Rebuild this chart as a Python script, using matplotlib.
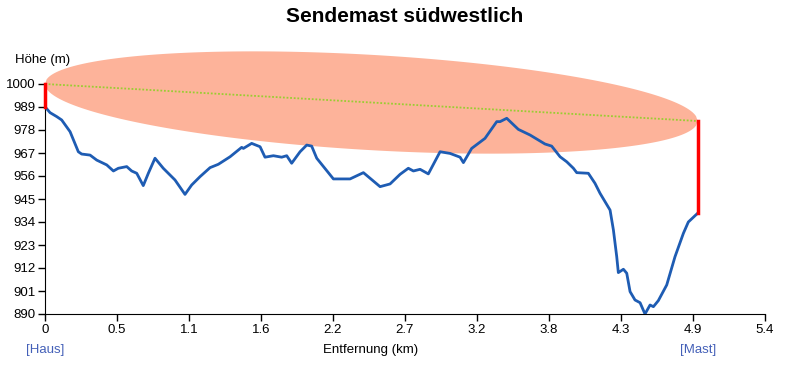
import numpy as np
import matplotlib
matplotlib.use("Agg")
import matplotlib.pyplot as plt

plt.rcParams['font.family'] = ['Liberation Sans', 'DejaVu Sans']

# terrain profile (km, m)
dist = [0.000, 0.038, 0.088, 0.125, 0.188, 0.250, 0.275, 0.338, 0.388, 0.463,
        0.513, 0.550, 0.613, 0.650, 0.688, 0.737, 0.775, 0.825, 0.887, 0.975,
        1.050, 1.100, 1.163, 1.238, 1.300, 1.388, 1.475, 1.488, 1.550, 1.613,
        1.650, 1.713, 1.775, 1.813, 1.850, 1.913, 1.963, 2.000, 2.038, 2.163,
        2.288, 2.388, 2.513, 2.588, 2.663, 2.725, 2.763, 2.813, 2.875, 2.963,
        3.038, 3.113, 3.138, 3.200, 3.300, 3.388, 3.413, 3.463, 3.550, 3.638,
        3.750, 3.800, 3.863, 3.913, 3.963, 3.988, 4.075, 4.125, 4.163, 4.238,
        4.263, 4.288, 4.300, 4.338, 4.363, 4.388, 4.425, 4.463, 4.500, 4.538,
        4.563, 4.600, 4.663, 4.725, 4.788, 4.825, 4.895]
elev = [989.1, 986.3, 984.4, 982.8, 977.2, 967.6, 966.5, 966.0, 963.6, 961.3,
        958.4, 959.7, 960.5, 958.4, 957.3, 951.4, 957.3, 964.5, 959.7, 954.1,
        947.2, 951.7, 955.7, 960.0, 961.6, 965.2, 969.7, 969.2, 971.6, 970.0,
        965.0, 965.7, 965.0, 965.7, 962.1, 967.6, 970.8, 970.3, 964.5, 954.6,
        954.6, 957.6, 950.9, 952.2, 956.8, 959.7, 958.4, 959.2, 957.0, 967.6,
        966.8, 965.0, 962.4, 969.2, 974.0, 982.0, 982.0, 983.6, 978.3, 975.6,
        971.3, 970.3, 965.2, 962.8, 959.7, 957.6, 957.3, 952.5, 947.7, 939.7,
        930.2, 917.4, 909.8, 911.4, 909.5, 900.7, 896.7, 895.4, 890.0, 894.3,
        893.5, 896.4, 903.9, 917.4, 928.6, 934.0, 938.2]

house_x, house_top = 0.0, 1000.0
mast_x, mast_top = 4.895, 982.3
zone_half = 22.8

x_ticks = [0, 0.54, 1.08, 1.62, 2.16, 2.7, 3.24, 3.78, 4.32, 4.86, 5.4]
x_labels = ['0', '0.5', '1.1', '1.6', '2.2', '2.7', '3.2', '3.8', '4.3', '4.9', '5.4']
y_ticks = list(range(890, 1001, 11))

fig = plt.figure(figsize=(7.99, 3.66), dpi=100)
ax = fig.add_axes([45 / 799, 1 - 314 / 366, 720 / 799, 230 / 366])

# fresnel zone ellipse
t = np.linspace(0, 1, 400)
lx = house_x + (mast_x - house_x) * t
ly = house_top + (mast_top - house_top) * t
h = zone_half * np.sqrt(np.clip(4 * t * (1 - t), 0, None))
px = np.concatenate([lx, lx[::-1]])
py = np.concatenate([ly + h, (ly - h)[::-1]])
ax.fill(px, py, color='#FDB39A', lw=0, clip_on=False, zorder=1)

ax.plot([house_x, mast_x], [house_top, mast_top], color='#9ACD32', lw=1.3,
        ls=(0, (1, 1)), zorder=2, clip_on=False)
ax.plot(dist, elev, color='#1E5CB3', lw=2, zorder=3, solid_joinstyle='round')
ax.plot([house_x, house_x], [elev[0], house_top], color='#FF0000', lw=2.5, zorder=4, clip_on=False)
ax.plot([mast_x, mast_x], [elev[-1], mast_top], color='#FF0000', lw=2.5, zorder=4, clip_on=False)

ax.set_xlim(0, 5.4)
ax.set_ylim(890, 1000)
ax.set_xticks(x_ticks)
ax.set_xticklabels(x_labels)
ax.set_yticks(y_ticks)
ax.tick_params(labelsize=9.5, length=5, width=1, pad=2)
for s in ['top', 'right']:
    ax.spines[s].set_visible(False)

fig.text(405 / 799, 1 - 16 / 366, 'Sendemast südwestlich', ha='center', va='center',
         fontsize=15, fontweight='bold')
fig.text(15 / 799, 1 - 60 / 366, 'Höhe (m)', ha='left', va='center', fontsize=9.5)
fig.text(371 / 799, 1 - 350 / 366, 'Entfernung (km)', ha='center', va='center', fontsize=9.5)
fig.text(45 / 799, 1 - 350 / 366, '[Haus]', ha='center', va='center', fontsize=9.5, color='#4460B8')
fig.text(698 / 799, 1 - 350 / 366, '[Mast]', ha='center', va='center', fontsize=9.5, color='#4460B8')

fig.savefig('out.png', dpi=100)
